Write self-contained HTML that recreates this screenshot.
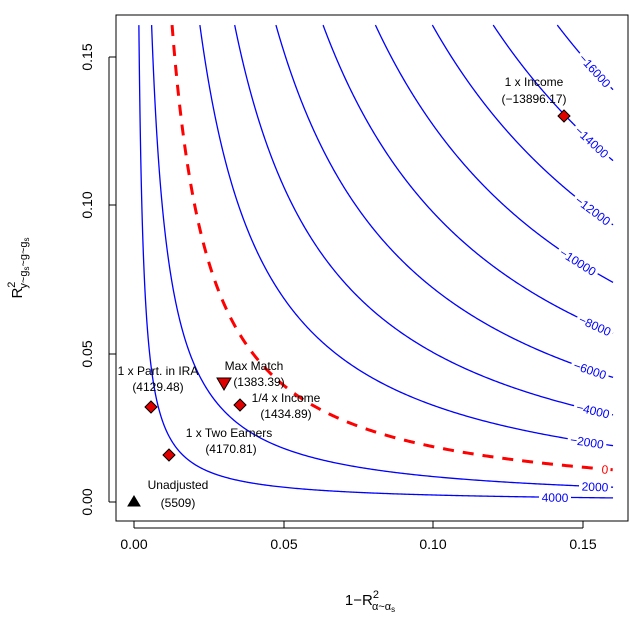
<!DOCTYPE html>
<html><head><meta charset="utf-8"><style>
body{margin:0;background:#fff}
svg{display:block;font-family:"Liberation Sans",sans-serif}
</style></head><body>
<svg id="s" width="636" height="628" viewBox="0 0 636 628" xmlns="http://www.w3.org/2000/svg">
<defs><clipPath id="c"><rect x="116" y="15" width="512" height="506"/></clipPath></defs>
<g id="curves" clip-path="url(#c)"></g>
<g id="labels"></g>
<rect x="116" y="15" width="512" height="506" fill="none" stroke="#000" stroke-width="1"/>
<g stroke="#000" fill="none">
<path d="M134 521V528M284 521V528M433 521V528M583 521V528M134 528H583"/>
<path d="M116 502H109M116 354H109M116 205H109M116 57H109M109 502V57"/>
</g>
<g font-size="14" text-anchor="middle" fill="#000">
<text x="134" y="549">0.00</text><text x="284" y="549">0.05</text><text x="433" y="549">0.10</text><text x="583" y="549">0.15</text>
<text transform="translate(92,502) rotate(-90)">0.00</text>
<text transform="translate(92,354) rotate(-90)">0.05</text>
<text transform="translate(92,205) rotate(-90)">0.10</text>
<text transform="translate(92,57) rotate(-90)">0.15</text>
<text x="370" y="605" font-size="15">1−R<tspan font-size="11" dy="-7">2</tspan><tspan font-size="11" dx="-7" dy="12">α~α</tspan><tspan font-size="8" dy="2">s</tspan></text>
<text transform="translate(22,268) rotate(-90)" font-size="15">R<tspan font-size="11" dy="-7">2</tspan><tspan font-size="11" dx="-7" dy="12">y~g</tspan><tspan font-size="8" dy="2">s</tspan><tspan font-size="11" dy="-2">~g~g</tspan><tspan font-size="8" dy="2">s</tspan></text>
</g>
<g stroke="#000" stroke-width="1" fill="#e00000">
<path d="M134 496L140 506H128Z" fill="#000"/>
<path d="M151 401L157 407L151 413L145 407Z"/>
<path d="M169 449L175 455L169 461L163 455Z"/>
<path d="M240 399L246 405L240 411L234 405Z"/>
<path d="M217 378H231L224 390Z"/>
<path d="M564 110L570 116L564 122L558 116Z"/>
</g>
<g font-size="12" fill="#000" text-anchor="middle">
<text x="178" y="489">Unadjusted</text><text x="178" y="507">(5509)</text>
<text x="158" y="375">1 x Part. in IRA</text><text x="158" y="391">(4129.48)</text>
<text x="229" y="437">1 x Two Earners</text><text x="231" y="453">(4170.81)</text>
<text x="254" y="370">Max Match</text><text x="259" y="386">(1383.39)</text>
<text x="286" y="402">1/4 x Income</text><text x="286" y="418">(1434.89)</text>
<text x="534" y="86">1 x Income</text><text x="534" y="103">(−13896.17)</text>
</g>
</svg>
<script>
var a=6211,k=136500;
function X(x){return 134+x*2994}function Y(y){return 502-y*2966}
var levels=[[4000,555],[2000,595],[0,605],[-2000,587],[-4000,593],[-6000,590],[-8000,595],[-10000,578],[-12000,593],[-14000,592],[-16000,595]];
var cg=document.getElementById('curves'),lg=document.getElementById('labels');
var ns='http://www.w3.org/2000/svg';
levels.forEach(function(l){
 var L=l[0],s=(a-L)/k,c=s*s,d='';
 var x0=c/(0.1608+c);
 for(var i=0;i<=400;i++){var x=x0+(0.16-x0)*Math.pow(i/400,1.5);var y=c*(1-x)/x;d+=(i?'L':'M')+X(x).toFixed(2)+' '+Y(y).toFixed(2);}
 var p=document.createElementNS(ns,'path');p.setAttribute('d',d);p.setAttribute('fill','none');
 if(L==0){p.setAttribute('stroke','#f00');p.setAttribute('stroke-width','3');p.setAttribute('stroke-dasharray','11 9');}
 else{p.setAttribute('stroke','#00f');p.setAttribute('stroke-width','1.3');}
 cg.appendChild(p);
 var px=l[1],x=(px-134)/2994,y=c*(1-x)/x,py=Y(y);
 var x2=x+0.001,y2=c*(1-x2)/x2,ang=Math.atan2(Y(y2)-py,X(x2)-px)*180/Math.PI;
 var g=document.createElementNS(ns,'g');g.setAttribute('transform','translate('+px+','+py+') rotate('+ang+')');
 var t=(L<0?'−':'')+Math.abs(L);var w=t.length*7+4;
 g.innerHTML='<rect x="'+(-w/2)+'" y="-7" width="'+w+'" height="14" fill="#fff"/><text y="4.5" text-anchor="middle" font-size="12" fill="'+(L==0?'#f00':'#00f')+'">'+t+'</text>';
 lg.appendChild(g);
});
</script>
</body></html>
